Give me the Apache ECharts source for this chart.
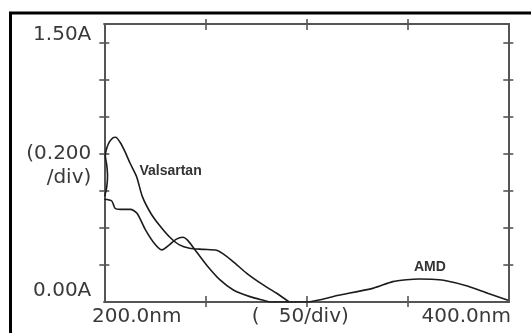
<!DOCTYPE html>
<html><head><meta charset="utf-8">
<script src="https://cdn.jsdelivr.net/npm/echarts@6/dist/echarts.min.js"></script>
<style>html,body{margin:0;padding:0;background:#fff}#c{width:531px;height:333px}</style>
</head><body><div id="c"></div>
<script>
// ---- data ----
const xTickValues = [250, 300, 350];
const xLabelValues = [200, 300, 400];
const xLabelTexts = ['200.0nm', '(   50/div)', '400.0nm'];
const yTickValues = [0.2, 0.4, 0.6, 0.8, 1.0, 1.2, 1.4];
const yLabelValues = [0, 0.672, 0.8, 1.5];
const yLabelTexts = ['0.00A', '/div)', '(0.200', '1.50A'];

const valsartanNm  = [200.2, 201.2, 201.6, 201.2, 200.5, 201.2, 202.6, 204.4, 205.6, 207.8, 210.3, 212.7, 216.0, 218.8, 223.0, 227.2, 232.2, 237.2, 242.2, 249.0, 255.6, 258.5, 263.9, 270.5, 278.7, 285.3, 291.5];
const valsartanAbs = [0.57, 0.62, 0.68, 0.74, 0.79, 0.83, 0.865, 0.887, 0.889, 0.862, 0.81, 0.75, 0.676, 0.57, 0.479, 0.415, 0.352, 0.308, 0.29, 0.284, 0.279, 0.262, 0.217, 0.155, 0.092, 0.047, 0.0];

const amdNm  = [200.0, 203.7, 205.3, 207.9, 212.9, 216.2, 220.4, 224.7, 228.5, 232.2, 235.5, 238.9, 241.4, 245.6, 250.6, 257.3, 263.9, 272.1, 279.5, 282.0, 300.1, 316.0, 333.3, 342.8, 349.6, 356.0, 362.0, 368.0, 379.7, 389.8, 399.9];
const amdAbs = [0.554, 0.545, 0.506, 0.50, 0.50, 0.479, 0.389, 0.317, 0.281, 0.308, 0.338, 0.349, 0.331, 0.271, 0.20, 0.119, 0.065, 0.029, 0.007, 0.0, 0.0, 0.036, 0.075, 0.11, 0.12, 0.124, 0.123, 0.117, 0.086, 0.047, 0.01];

const seriesNames = ['Valsartan', 'AMD'];
const nameLabelNm = [232.8, 361.2];
const nameLabelAbs = [0.707, 0.189];

// ---- chart ----
const zip = (a, b) => a.map((v, i) => [v, b[i]]);
const axisColor = '#555';
const textColor = '#3a3a3a';
const fontFam = '"DejaVu Sans", Verdana, sans-serif';

const baseTxt = {fontSize: 20, fontFamily: fontFam, color: textColor, lineHeight: 20};
const xKeys = ['l', 'm', 'r'];
const xRich = {
  l: Object.assign({padding: [0, 0, 0, 65]}, baseTxt),
  m: Object.assign({padding: [0, 12, 0, 0]}, baseTxt),
  r: Object.assign({padding: [0, 84, 0, 0]}, baseTxt)
};
const yKeys = ['bot', 'plain', 'plain', 'top'];
const yRich = {
  bot: Object.assign({padding: [0, 0, 23, 0]}, baseTxt),
  plain: Object.assign({}, baseTxt),
  top: Object.assign({padding: [21, 0, 0, 0]}, baseTxt)
};
function findIdx(arr, v) { return arr.findIndex(x => Math.abs(x - v) < 1e-6); }
function xFmt(v) {
  const i = findIdx(xLabelValues, v);
  if (i < 0) return '';
  return '{' + xKeys[i] + '|' + xLabelTexts[i] + '}';
}
function yFmt(v) {
  const i = findIdx(yLabelValues, v);
  if (i < 0) return '';
  return '{' + yKeys[i] + '|' + yLabelTexts[i] + '}';
}

const lineSt = {color: axisColor, width: 2};
const tickSt = {color: axisColor, width: 1.6};

function xAxisDef(grid, position, inside, withLabel) {
  return {
    gridIndex: grid, type: 'value', position: position, min: 200, max: 400, interval: 50,
    axisLine: {show: true, onZero: false, lineStyle: lineSt},
    axisTick: {show: true, inside: inside, length: inside ? 6 : 5, customValues: xTickValues, lineStyle: tickSt},
    axisLabel: withLabel ? {show: true, margin: 5, customValues: xLabelValues, formatter: xFmt, rich: xRich,
      fontSize: 20, fontFamily: fontFam, color: textColor, hideOverlap: false} : {show: false},
    splitLine: {show: false}
  };
}
function yAxisDef(grid, position, inside, withLabel) {
  return {
    gridIndex: grid, type: 'value', position: position, min: 0, max: 1.5, interval: 0.2,
    axisLine: {show: true, onZero: false, lineStyle: lineSt},
    axisTick: {show: true, inside: inside, length: 5, customValues: yTickValues, lineStyle: tickSt},
    axisLabel: withLabel ? {show: true, margin: 13, customValues: yLabelValues, formatter: yFmt, rich: yRich,
      fontSize: 20, fontFamily: fontFam, color: textColor, align: 'right', hideOverlap: false} : {show: false},
    splitLine: {show: false}
  };
}

const gridRect = {left: 104.3, right: 22.7, top: 24, bottom: 31, containLabel: false, outerBoundsMode: 'none'};

const lineSeries = [zip(valsartanNm, valsartanAbs), zip(amdNm, amdAbs)].map((data, i) => ({
  name: seriesNames[i], type: 'line', xAxisIndex: 0, yAxisIndex: 0, data: data,
  showSymbol: false, smooth: 0.25, lineStyle: {color: '#1c1c1c', width: 1.6}, z: 5,
  markPoint: {
    symbol: 'circle', symbolSize: 1, itemStyle: {color: 'rgba(0,0,0,0)'},
    label: {show: true, position: 'inside', formatter: seriesNames[i], fontSize: 14, fontWeight: 'bold',
      fontFamily: '"Liberation Sans", Arial, sans-serif', color: '#333'},
    data: [{coord: [nameLabelNm[i], nameLabelAbs[i]]}]
  }
}));

const chart = echarts.init(document.getElementById('c'), null, {renderer: 'canvas'});
chart.setOption({
  animation: false,
  backgroundColor: '#fff',
  grid: [Object.assign({}, gridRect), Object.assign({}, gridRect)],
  xAxis: [xAxisDef(0, 'bottom', false, true), xAxisDef(0, 'top', false, false),
          xAxisDef(1, 'bottom', true, false), xAxisDef(1, 'top', true, false)],
  yAxis: [yAxisDef(0, 'left', false, true), yAxisDef(0, 'right', false, false),
          yAxisDef(1, 'left', true, false), yAxisDef(1, 'right', true, false)],
  graphic: [{
    type: 'rect', silent: true, z: 100,
    shape: {x: 10.5, y: 13, width: 600, height: 400},
    style: {fill: 'none', stroke: '#000', lineWidth: 3}
  }],
  series: lineSeries
});
</script>
</body></html>
